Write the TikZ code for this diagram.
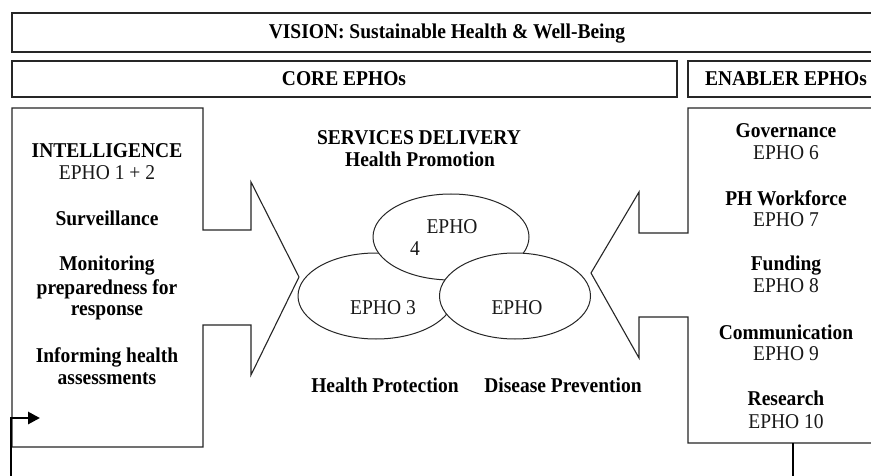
\documentclass[tikz,border=0pt]{standalone}
\usepackage{graphicx}
\usepackage{fontspec}
\setmainfont{Liberation Serif}
\usetikzlibrary{shapes.geometric,arrows.meta}
\newcommand{\TallTxt}[1]{\scalebox{1}[1.08]{#1}}
\begin{document}
\begin{tikzpicture}[x=1pt,y=-1pt,
  line/.style={draw=black!85, line width=1.1pt},
  bt/.style={font=\fontsize{19.5pt}{22pt}\selectfont\bfseries, text=black, inner sep=0pt, anchor=base},
  rt/.style={font=\fontsize{19.5pt}{22pt}\selectfont, text=black!90, inner sep=0pt, anchor=base},
  oval/.style={ellipse, draw=black!85, line width=1pt, fill=white, inner sep=0pt},
  thickline/.style={draw=black, line width=2.8pt}]
\useasboundingbox (0,0) rectangle (871,476);
\fill[white] (0,0) rectangle (871,476);

% header boxes
\draw[line] (880,13) -- (12,13) -- (12,52) -- (880,52);
\node[bt] (vision) at (447,39) {\TallTxt{VISION: Sustainable Health \& Well-Being}};
\draw[line] (12,61) rectangle (677,97);
\node[bt] (core) at (344,86) {\TallTxt{CORE EPHOs}};
\draw[line] (880,61) -- (688,61) -- (688,97) -- (880,97);
\node[bt] (enabler) at (786,86) {\TallTxt{ENABLER EPHOs}};

% left box with arrow
\draw[line, line join=miter] (12,108) -- (203,108) -- (203,230) -- (251,230) -- (251,182)
  -- (299,277) -- (251,375) -- (251,325) -- (203,325) -- (203,447) -- (12,447) -- cycle;
% right box with arrow
\draw[line, line join=miter] (880,108) -- (688,108) -- (688,233) -- (639,233) -- (639,192)
  -- (591,273) -- (639,358) -- (639,317) -- (688,317) -- (688,443) -- (880,443);

% left texts
\node[bt] (intel) at (107,157.5) {\TallTxt{INTELLIGENCE}};
\node[rt] (epho12) at (107,179.5) {\TallTxt{EPHO 1 + 2}};
\node[bt] (surv) at (107,225.5) {\TallTxt{Surveillance}};
\node[bt] (mon1) at (107,270.5) {\TallTxt{Monitoring}};
\node[bt] (mon2) at (107,294.5) {\TallTxt{preparedness for}};
\node[bt] (mon3) at (107,315.5) {\TallTxt{response}};
\node[bt] (inf1) at (107,362.5) {\TallTxt{Informing health}};
\node[bt] (inf2) at (107,384.5) {\TallTxt{assessments}};

% right texts
\node[bt] (gov) at (786,137.5) {\TallTxt{Governance}};
\node[rt] (e6) at (786,159.5) {\TallTxt{EPHO 6}};
\node[bt] (phw) at (786,205.5) {\TallTxt{PH Workforce}};
\node[rt] (e7) at (786,226.5) {\TallTxt{EPHO 7}};
\node[bt] (fund) at (786,270.5) {\TallTxt{Funding}};
\node[rt] (e8) at (786,292.5) {\TallTxt{EPHO 8}};
\node[bt] (comm) at (786,339.5) {\TallTxt{Communication}};
\node[rt] (e9) at (786,360.5) {\TallTxt{EPHO 9}};
\node[bt] (res) at (786,405.5) {\TallTxt{Research}};
\node[rt] (e10) at (786,428.5) {\TallTxt{EPHO 10}};

% centre
\node[bt] (sd) at (419,145) {\TallTxt{SERVICES DELIVERY}};
\node[bt] (hpm) at (420,167) {\TallTxt{Health Promotion}};
\node[oval, minimum width=156pt, minimum height=86pt] (ell3) at (376,296) {};
\node[oval, minimum width=156pt, minimum height=86pt] (ell4) at (451,237) {};
\node[oval, minimum width=151pt, minimum height=86pt] (ell5) at (515,296) {};
\node[rt] (t4a) at (452,233.5) {\TallTxt{EPHO}};
\node[rt] (t4b) at (415,255.5) {\TallTxt{4}};
\node[rt] (t3) at (383,314.5) {\TallTxt{EPHO 3}};
\node[rt] (t5) at (517,314.5) {\TallTxt{EPHO}};
\node[bt] (hpr) at (385,392) {\TallTxt{Health Protection}};
\node[bt] (dp) at (563,392) {\TallTxt{Disease Prevention}};

% thick connectors
\coordinate (lb) at (11,485);
\coordinate (la) at (40,418);
\draw[thickline, -{Triangle[length=12pt,width=12pt]}] (lb) |- (la);
\coordinate (rtop) at (793,443);
\coordinate (rbot) at (793,485);
\draw[thickline] (rtop) -- (rbot);
\end{tikzpicture}
\end{document}
